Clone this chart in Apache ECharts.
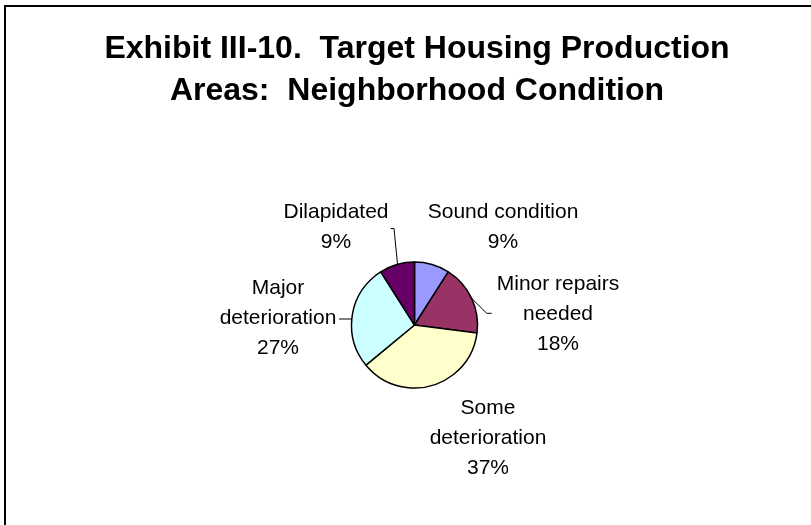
<!DOCTYPE html>
<html>
<head>
<meta charset="utf-8">
<script src="https://cdn.jsdelivr.net/npm/echarts@6/dist/echarts.min.js"></script>
<style>
  html, body { margin: 0; padding: 0; background: #fff; }
  #chart { width: 811px; height: 525px; }
</style>
</head>
<body>
<div id="chart"></div>
<script>
// Neighborhood condition of the target housing production areas (share of areas)
const categories = ['Sound condition', 'Minor repairs\nneeded', 'Some\ndeterioration', 'Major\ndeterioration', 'Dilapidated'];
const shares = [9, 18, 37, 27, 9];
const sliceColors = ['#9999FF', '#993366', '#FFFFCC', '#CCFFFF', '#660066'];
const showLeader = [false, true, false, true, true];

// Pie geometry
const CX = 414.5, CY = 325, R = 63;

// Label centres and leader-line bends, as offsets from the pie centre
const labelOffsets = [[88.5, -98], [143.5, -11], [73.5, 113], [-136.5, -7], [-78.5, -98]];
const leaderOffsets = [
  null,
  [[57, -26.8], [72.2, -11.7], [77.2, -11.7]],
  null,
  [[-62.5, -6], [-75.5, -6]],
  [[-17, -61], [-20.5, -96.5], [-23.8, -96.5]]
];

const FONT = '"Liberation Sans", Arial, Helvetica, sans-serif';

const chart = echarts.init(document.getElementById('chart'), null, { renderer: 'canvas' });

chart.setOption({
  animation: false,
  backgroundColor: '#ffffff',
  title: {
    text: 'Exhibit III-10.  Target Housing Production\nAreas:  Neighborhood Condition',
    left: 412,
    top: 23,
    textAlign: 'center',
    textStyle: {
      fontFamily: FONT,
      fontWeight: 'bold',
      fontSize: 32,
      lineHeight: 42,
      color: '#000'
    }
  },
  graphic: [{
    type: 'rect',
    silent: true,
    shape: { x: 5, y: 6, width: 900, height: 600 },
    style: { fill: 'none', stroke: '#000', lineWidth: 2 }
  }],
  series: [{
    type: 'pie',
    center: [CX, CY],
    radius: R,
    startAngle: 90,
    clockwise: true,
    avoidLabelOverlap: false,
    itemStyle: { borderColor: '#000', borderWidth: 1.5 },
    label: {
      show: true,
      position: 'outside',
      formatter: '{b}\n{d}%',
      fontFamily: FONT,
      fontSize: 21,
      lineHeight: 30,
      color: '#000',
      align: 'center'
    },
    labelLine: {
      show: true,
      length: 10,
      length2: 5,
      lineStyle: { color: '#000', width: 1 }
    },
    labelLayout: function (p) {
      const i = p.dataIndex;
      const o = labelOffsets[i];
      const res = {
        x: CX + o[0],
        y: CY + o[1],
        align: 'center',
        verticalAlign: 'middle'
      };
      if (leaderOffsets[i]) {
        res.labelLinePoints = leaderOffsets[i].map(function (q) { return [CX + q[0], CY + q[1]]; });
      }
      return res;
    },
    data: categories.map(function (name, i) {
      return {
        name: name,
        value: shares[i],
        itemStyle: { color: sliceColors[i] },
        labelLine: { show: showLeader[i] }
      };
    })
  }]
});
</script>
</body>
</html>
